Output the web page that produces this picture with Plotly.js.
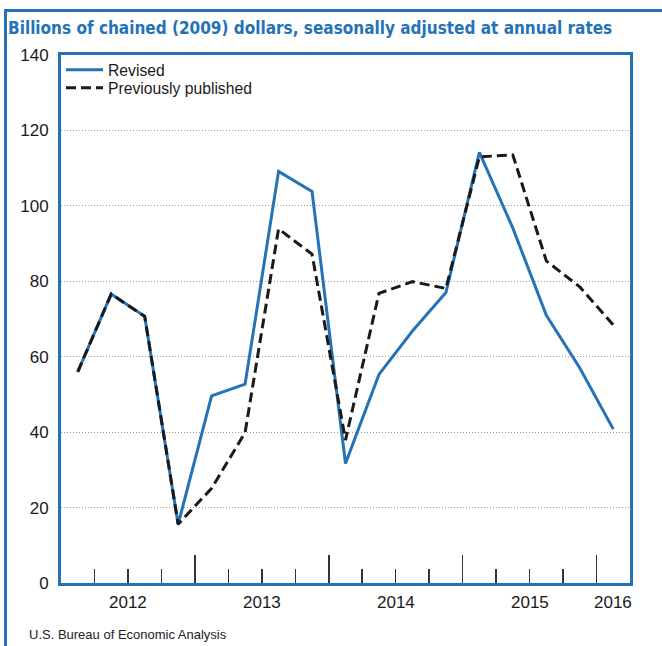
<!DOCTYPE html>
<html>
<head>
<meta charset="utf-8">
<script src="https://cdn.plot.ly/plotly-3.0.1.min.js"></script>
<style>
  html, body { margin: 0; padding: 0; background: #fff; overflow: hidden; }
  #wrap { position: relative; width: 662px; height: 646px; }
  #chart { position: absolute; left: 0; top: 0; width: 662px; height: 646px; }
  #frame { position: absolute; left: 4px; top: 9px; width: 700px; height: 700px;
           border-left: 3px solid #2473b6; border-top: 3px solid #2473b6;
           pointer-events: none; z-index: 5; }
</style>
</head>
<body>
<div id="wrap">
  <div id="chart"></div>
  <div id="frame"></div>
</div>
<script>
// ---- data ----
const quarters = ['2012Q1','2012Q2','2012Q3','2012Q4',
                  '2013Q1','2013Q2','2013Q3','2013Q4',
                  '2014Q1','2014Q2','2014Q3','2014Q4',
                  '2015Q1','2015Q2','2015Q3','2015Q4',
                  '2016Q1'];
const revised = [56.0, 76.6, 70.7, 15.6,
                 49.6, 52.7, 109.1, 103.8,
                 31.7, 55.3, 66.8, 77.0,
                 114.2, 94.1, 71.0, 57.0,
                 40.8];
const previouslyPublished = [56.0, 76.6, 70.7, 15.6,
                             25.1, 39.9, 93.9, 87.2,
                             37.9, 76.8, 79.9, 78.1,
                             113.0, 113.5, 85.4, 78.5,
                             68.4];
const yearLabels = ['2012','2013','2014','2015','2016'];
const seriesNames = ['Revised', 'Previously published'];
const titleText = 'Billions of chained (2009) dollars, seasonally adjusted at annual rates';
const sourceText = 'U.S. Bureau of Economic Analysis';

// ---- derived positions (quarter index scale) ----
const xMid = quarters.map((q, i) => i + 0.5);
const yearBoundaries = [];
quarters.forEach((q, i) => { if (i > 0 && q.endsWith('Q1')) yearBoundaries.push(i); });
const yearCenters = yearLabels.map(y => {
  const xs = xMid.filter((x, i) => quarters[i].startsWith(y));
  return xs.reduce((a, b) => a + b, 0) / xs.length;
});

const BLUE = '#2473b6';
const FONT = '"Liberation Sans", Arial, Helvetica, sans-serif';
const NARROW = '"Liberation Sans Narrow", "Arial Narrow", "DejaVu Sans Condensed", sans-serif';

const traces = [
  { x: xMid, y: revised, name: seriesNames[0], type: 'scatter', mode: 'lines',
    legend: 'legend', line: { color: BLUE, width: 3 } },
  { x: xMid, y: previouslyPublished, name: seriesNames[1], type: 'scatter', mode: 'lines',
    legend: 'legend2', line: { color: '#1a1a1a', width: 3, dash: '10px,5px' } }
];

const annotations = yearLabels.map((t, i) => ({
  text: t, x: yearCenters[i], xref: 'x', y: 0, yref: 'paper',
  xanchor: 'center', yanchor: 'top', yshift: -8, showarrow: false,
  font: { family: FONT, size: 17, color: '#1a1a1a' }
}));
annotations.push({
  text: sourceText, xref: 'paper', x: (27 - 61) / 569, xanchor: 'left',
  yref: 'paper', y: (583 - 634) / 528, yanchor: 'middle', showarrow: false,
  font: { family: FONT, size: 13, color: '#222' }
});

const legendBase = {
  x: 0, xanchor: 'left', yanchor: 'middle',
  bgcolor: 'rgba(0,0,0,0)', borderwidth: 0, itemwidth: 37,
  font: { family: FONT, size: 15.7, color: '#1a1a1a' }
};

const layout = {
  width: 662, height: 646,
  margin: { l: 61, r: 32, t: 55, b: 63, pad: 0 },
  paper_bgcolor: '#fff', plot_bgcolor: '#fff',
  title: {
    text: '<b>' + titleText + '</b>',
    font: { family: NARROW, size: 17, color: BLUE },
    xref: 'container', x: 8 / 662, xanchor: 'left',
    yref: 'container', y: 1 - 28 / 646, yanchor: 'middle'
  },
  showlegend: true,
  legend: Object.assign({}, legendBase, { y: (583 - 70) / 528 }),
  legend2: Object.assign({}, legendBase, { y: (583 - 88) / 528 }),
  xaxis: {
    range: [0, quarters.length], fixedrange: true,
    showline: true, linecolor: BLUE, linewidth: 3, mirror: true,
    showgrid: false, zeroline: false,
    tickmode: 'array', tickvals: yearBoundaries,
    ticks: 'inside', ticklen: 28, tickwidth: 1.5, tickcolor: '#333',
    showticklabels: false,
    minor: { tickmode: 'linear', tick0: 0, dtick: 1, ticks: 'inside',
             ticklen: 14, tickwidth: 1.5, tickcolor: '#333', showgrid: false }
  },
  yaxis: {
    range: [0, 140], fixedrange: true,
    showline: true, linecolor: BLUE, linewidth: 3, mirror: true,
    tickmode: 'linear', tick0: 0, dtick: 20,
    ticks: '', showgrid: true, gridcolor: '#9a9a9a', gridwidth: 1, griddash: '1px,2px',
    zeroline: false,
    tickfont: { family: FONT, size: 17, color: '#1a1a1a' },
    ticklabelstandoff: 6
  },
  annotations: annotations
};

Plotly.newPlot('chart', traces, layout, { displayModeBar: false, staticPlot: true });
</script>
</body>
</html>
